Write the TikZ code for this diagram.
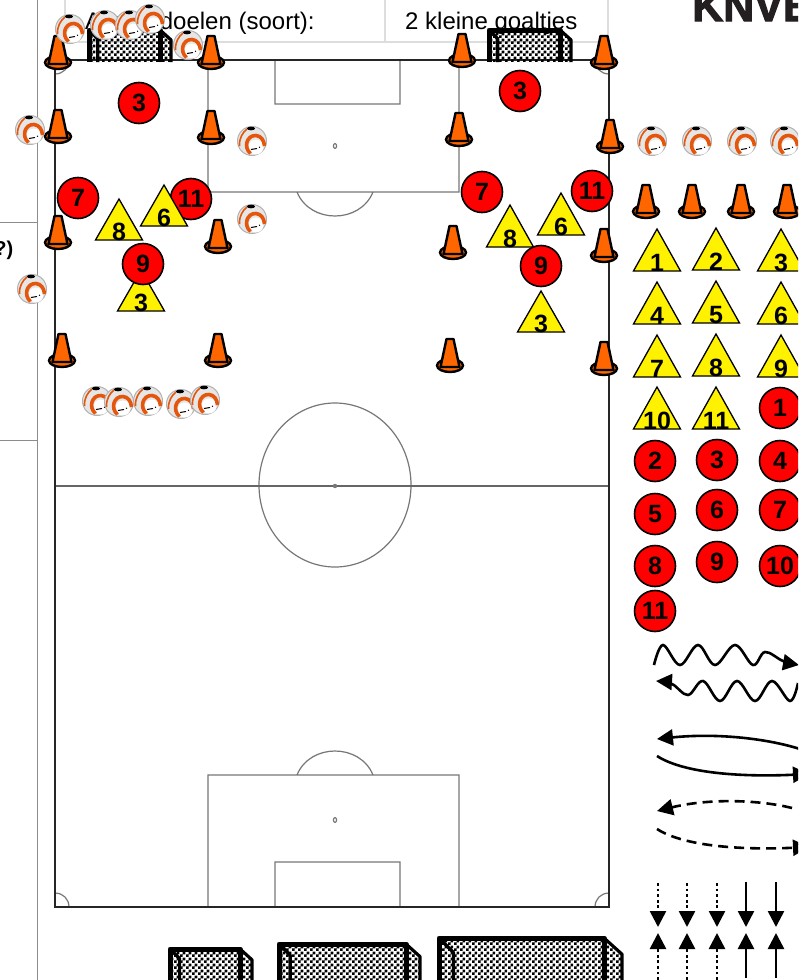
\documentclass[tikz,border=0pt]{standalone}
\usepackage{fontspec}
\setmainfont{Liberation Sans}
\newfontfamily\logofont[FakeBold=2.5]{Liberation Sans Bold}
\usepackage{tikz}
\usetikzlibrary{patterns,arrows.meta}
\usepackage{xcolor}
\definecolor{coneorange}{HTML}{FF6600}
\definecolor{ballorange}{HTML}{E4560C}
\definecolor{ballgrey}{HTML}{E6E6E6}
\definecolor{pitchgrey}{HTML}{777777}
\definecolor{tablegrey}{HTML}{DDDDDD}
\definecolor{logoblack}{HTML}{231F20}
\pgfdeclarepatternformonly{goalnet}{\pgfqpoint{0pt}{0pt}}{\pgfqpoint{5.6pt}{5.6pt}}{\pgfqpoint{5.6pt}{5.6pt}}{%
  \pgfpathrectangle{\pgfqpoint{0pt}{0pt}}{\pgfqpoint{2.8pt}{2.8pt}}
  \pgfpathrectangle{\pgfqpoint{2.8pt}{2.8pt}}{\pgfqpoint{2.8pt}{2.8pt}}
  \pgfusepath{fill}}
\tikzset{
  numfont/.style={font=\fontsize{25}{27}\selectfont\bfseries},
  redplayer/.style={circle,draw=black,line width=1.6pt,fill=red,minimum size=41pt,inner sep=0pt,numfont},
  tricount/.style={anchor=base,inner sep=0pt,numfont},
  tabletext/.style={anchor=base west,inner sep=0pt,font=\fontsize{24}{26}\selectfont},
  legendtip/.style={-{Triangle[length=16pt,width=16pt]},line width=2.6pt},
  dotline/.style={dash pattern=on 2.8pt off 2.8pt},
}
\newcommand{\pitchcone}[2]{%
  \fill[coneorange,draw=black,line width=2.4pt] (#1,#2-7.5) ellipse (13 and 6.5);
  \draw[fill=coneorange,line width=2.4pt,line join=round] (#1-3.5,#2-34) -- (#1+3.5,#2-34) -- (#1+9.5,#2-6) -- (#1-9.5,#2-6) -- cycle;
}
\newcommand{\pitchball}[2]{%
  \begin{scope}[shift={(#1,#2)}]
    \fill[ballgrey,draw=black!30,line width=1pt] (0,0) circle (14.5);
    \fill[white] (4,6) circle (7.5);
    \draw[ballorange,line width=1.6pt] (-12.5,5) .. controls (-13,-3) and (-9,-9) .. (-5,-12);
    \draw[ballorange,line width=3.6pt] (-1.5,12.5) .. controls (-9,6) and (-5,-6) .. (4,-5.5) .. controls (9,-5) and (12,-1) .. (12.5,5);
    \fill[black] (-1,-12.5) ellipse (4 and 1.8);
    \draw[black,line width=1pt] (-1,8.5) -- (5,7.5) (7,6.5) -- (8,6);
  \end{scope}
}
\newcommand{\pitchtri}[4]{%
  \draw[fill=yellow,line width=1.3pt,line join=miter] (#1,#2) -- (#1+23.5,#3) -- (#1-23.5,#3) -- cycle;
  \node[tricount] (t#1-#3) at (#1,#3) {#4};
}
\newcommand{\pitchred}[3]{%
  \node[redplayer] (r#1-#2) at (#1,#2) {#3};
}
\newcommand{\goalframe}[5]{%
  \fill[pattern=goalnet,pattern color=black] (#1,#3) -- (#2-#5,#3) -- (#2,#3+#5*0.9) -- (#2,#4) -- (#1,#4) -- cycle;
  \draw[line width=5pt,line join=round] (#1,#4) -- (#1,#3) -- (#2-#5,#3) -- (#2-#5,#4);
  \draw[line width=3.2pt,line join=round] (#1,#3) -- (#1+#5*0.8,#3+#5*0.8) -- (#1+#5*0.8,#4);
  \draw[line width=3.2pt,line join=round] (#2-#5,#3) -- (#2,#3+#5*0.9) -- (#2,#4);
}
\begin{document}
\begin{tikzpicture}[x=1pt,y=-1pt]
  \useasboundingbox (0,0) rectangle (798,980);
  \clip (0,0) rectangle (798,980);
  \fill[white] (0,0) rectangle (798,980);

  \draw[tablegrey,line width=1.4pt] (65,0) -- (65,42) -- (608,42) -- (608,0) (385,0) -- (385,42);
  \draw[black!45,line width=1pt] (37,0) -- (37,980) (0,222) -- (37,222) (0,440) -- (37,440);
  \node[tabletext] (doelen) at (85,29) {Aantal doelen (soort):};
  \node[tabletext] (goaltjes) at (405,29) {2 kleine goaltjes};
  \node[anchor=base east,inner sep=0pt,font=\fontsize{20}{22}\selectfont\bfseries] (vraag) at (13.5,255) {?)};
  \node[anchor=base west,inner sep=0pt,text=logoblack,font=\logofont\fontsize{43}{45}\selectfont] (knvb) at (692,21) {KNVB};

  \draw[pitchgrey,line width=1.2pt] (208,60) -- (208,192) -- (459,192) -- (459,60)
    (275,60) -- (275,104) -- (400,104) -- (400,60)
    (297,192) .. controls (310,224) and (360,224) .. (373,192)
    (208,907) -- (208,775) -- (459,775) -- (459,907)
    (275,907) -- (275,862) -- (400,862) -- (400,907)
    (297,775) .. controls (310,743) and (360,743) .. (373,775)
    (335,485) ellipse (76 and 82)
    (55,74) .. controls (63,74) and (69,68) .. (69,60)
    (609,74) .. controls (601,74) and (595,68) .. (595,60)
    (55,893) .. controls (63,893) and (69,899) .. (69,907)
    (609,893) .. controls (601,893) and (595,899) .. (595,907);
  \draw[black!60,line width=1.2pt] (55,486) -- (609,486);
  \draw[pitchgrey,line width=1.2pt] (335,146) ellipse (1.6 and 2.4) (335,820) ellipse (1.6 and 2.4);
  \fill[pitchgrey] (335,486) circle (2.2);
  \draw[black!85,line width=1.1pt] (55,60) rectangle (609,907);

  \goalframe{89}{171}{30}{62}{11}
  \goalframe{489}{571}{30}{62}{11}
  \goalframe{170}{252}{949}{990}{12}
  \goalframe{279}{420}{944}{990}{14}
  \goalframe{439}{622}{938}{990}{18}

  \foreach \xc/\yc in {58/70,211/70,58/144,211/145,58/250,218/254,62/368,218/368,
      462/68,604/70,459/147,610/154,453/260,604/263,450/373,604/376,
      646/219,692/219,741/219,787/219} {
    \pitchcone{\xc}{\yc}
  }

  \foreach \xc/\yc in {70/29,105/25,130/25,150/19,188/45,30/130,252/141,252/219,32/289,
      97/401,119/402,148/401,181/404,205/400,652/141,697/141,742/141,785/141} {
    \pitchball{\xc}{\yc}
  }

  \pitchred{139}{103}{3}
  \pitchred{520}{91}{3}
  \pitchred{78}{198}{7}
  \pitchred{191}{199}{11}
  \pitchred{482}{192}{7}
  \pitchred{592}{191}{11}
  \pitchtri{119}{199}{240}{8}
  \pitchtri{164}{185}{226}{6}
  \pitchtri{141}{270}{311}{3}
  \pitchred{143}{264}{9}
  \pitchtri{510}{205}{247}{8}
  \pitchtri{561}{193}{235}{6}
  \pitchred{541}{266}{9}
  \pitchtri{541}{291}{332}{3}

  \pitchtri{657}{229}{271}{1}
  \pitchtri{716}{228}{270}{2}
  \pitchtri{781}{229}{271}{3}
  \pitchtri{657}{282}{324}{4}
  \pitchtri{716}{281}{323}{5}
  \pitchtri{781}{282}{324}{6}
  \pitchtri{657}{335}{377}{7}
  \pitchtri{716}{334}{376}{8}
  \pitchtri{781}{335}{377}{9}
  \pitchtri{657}{387}{429}{10}
  \pitchtri{716}{387}{429}{11}

  \pitchred{780}{408}{1}
  \pitchred{655}{461}{2}
  \pitchred{717}{460}{3}
  \pitchred{780}{461}{4}
  \pitchred{655}{514}{5}
  \pitchred{717}{510}{6}
  \pitchred{780}{510}{7}
  \pitchred{655}{566}{8}
  \pitchred{717}{562}{9}
  \pitchred{780}{566}{10}
  \pitchred{655}{611}{11}

  \draw[legendtip] plot[smooth,tension=0.6] coordinates {(654,665) (663,645) (680,665) (698,645) (715,665) (735,645) (753,665) (765,652) (783,661) (799,665)};
  \draw[legendtip] plot[smooth,tension=0.6] coordinates {(798,683) (790,701) (772,681) (755,701) (737,681) (720,701) (703,681) (688,695) (672,684) (656,681)};

  \coordinate (sa) at (800,749);
  \coordinate (sb) at (657,739);
  \coordinate (sc) at (657,756);
  \coordinate (sd) at (809,774);
  \coordinate (da) at (792,808);
  \coordinate (db) at (657,811);
  \coordinate (dc) at (657,829);
  \coordinate (dd) at (809,847);
  \draw[legendtip] (sa) .. controls (765,738) and (715,733) .. (sb);
  \draw[legendtip] (sc) .. controls (685,774) and (745,777) .. (sd);
  \draw[legendtip,dash pattern=on 10pt off 6pt] (da) .. controls (760,800) and (710,798) .. (db);
  \draw[legendtip,dash pattern=on 10pt off 6pt] (dc) .. controls (685,847) and (745,850) .. (dd);

  \foreach \xc in {658,687,717} {
    \coordinate (ut\xc) at (\xc,883);
    \coordinate (uh\xc) at (\xc,927);
    \coordinate (dt\xc) at (\xc,980);
    \coordinate (dh\xc) at (\xc,933);
    \draw[legendtip,dotline] (ut\xc) -- (uh\xc);
    \draw[legendtip,dotline] (dt\xc) -- (dh\xc);
  }
  \foreach \xc in {746,776} {
    \coordinate (ut\xc) at (\xc,882);
    \coordinate (uh\xc) at (\xc,927);
    \coordinate (dt\xc) at (\xc,978);
    \coordinate (dh\xc) at (\xc,933);
    \draw[legendtip] (ut\xc) -- (uh\xc);
    \draw[legendtip] (dt\xc) -- (dh\xc);
  }
\end{tikzpicture}
\end{document}
